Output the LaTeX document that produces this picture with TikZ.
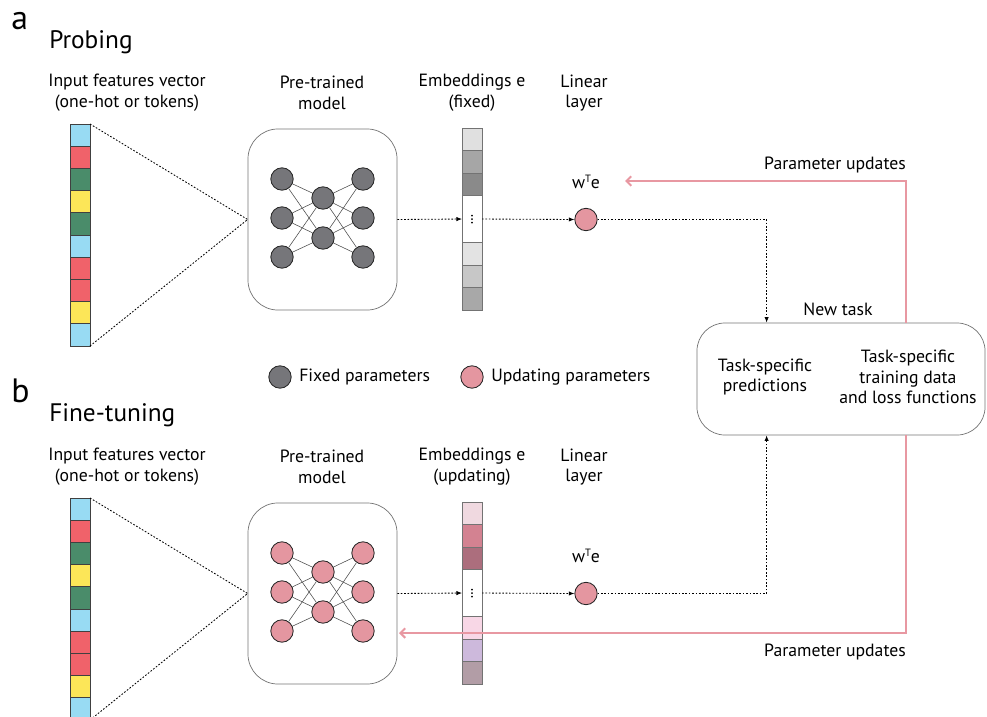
\documentclass[tikz,border=0pt]{standalone}
\usepackage{fontspec}
\setmainfont{PT Sans}
\usetikzlibrary{arrows.meta, positioning}
\definecolor{inblue}{RGB}{152,219,243}
\definecolor{inred}{RGB}{240,98,106}
\definecolor{ingreen}{RGB}{74,140,106}
\definecolor{inyellow}{RGB}{252,230,88}
\definecolor{fixedgray}{RGB}{118,118,122}
\definecolor{updpink}{RGB}{228,150,160}
\definecolor{updline}{RGB}{232,152,162}
\newcommand{\supT}{\raisebox{0.75ex}{\fontsize{7.5}{7.5}\selectfont T}}
\tikzset{
    txt/.style={font=\fontsize{12.6}{14.7}\selectfont, align=center, inner sep=0pt},
    letter/.style={font=\fontsize{24}{28}\selectfont, inner sep=0pt},
    paneltitle/.style={font=\fontsize{18}{22}\selectfont, inner sep=0pt},
    incell/.style={draw=black!75, line width=0.7pt, minimum width=0.5cm, minimum height=0.555cm, inner sep=0pt, outer sep=0pt},
    embcell/.style={draw=black!55, line width=0.7pt, minimum width=0.5cm, minimum height=0.5625cm, inner sep=0pt, outer sep=0pt},
    modelbox/.style={draw=black!55, line width=0.5pt, rounded corners=0.75cm, minimum width=3.725cm, minimum height=4.525cm},
    neuron/.style={circle, draw=black!85, line width=0.6pt, minimum size=0.56cm, inner sep=0pt},
    wire/.style={black!70, line width=0.4pt},
    dotline/.style={dash pattern=on 1.2pt off 1.2pt, line width=0.6pt},
    dotarrow/.style={dotline, -{Latex[length=1.4mm, width=1.1mm]}},
    updarrow/.style={updline, line width=1.4pt, -{Straight Barb[length=1.2mm, width=2.4mm]}}
}
\begin{document}
\begin{tikzpicture}[x=0.025cm, y=-0.025cm]
    \useasboundingbox (0,0) rectangle (987,717);

    % Panel a: probing
    \node[letter, anchor=base west] (a-letter) at (11,29) {a};
    \node[paneltitle, anchor=base west] (a-title) at (49,48) {Probing};
    \node[txt] (a-inlabel) at (127,93) {Input features vector\\(one-hot or tokens)};
    \node[txt] (a-modellabel) at (322,93) {Pre-trained\\model};
    \node[txt] (a-emblabel) at (472,93) {Embeddings e\\(fixed)};
    \node[txt] (a-linlabel) at (584,93) {Linear\\layer};

    % Input features vector
    \foreach \c [count=\i] in {inblue,inred,ingreen,inyellow,ingreen,inblue,inred,inred,inyellow,inblue}
        \node[incell, fill=\c] (a-in-\i) at (80,{124+22.2*(\i-0.5)}) {};

    % Pre-trained model (fixed)
    \node[modelbox] (a-model) at (322.5,219.5) {};
    \node[neuron, fill=fixedgray] (a-n11) at (282,179) {};
    \node[neuron, fill=fixedgray] (a-n12) at (282,218) {};
    \node[neuron, fill=fixedgray] (a-n13) at (282,257) {};
    \node[neuron, fill=fixedgray] (a-n21) at (323,198) {};
    \node[neuron, fill=fixedgray] (a-n22) at (323,238) {};
    \node[neuron, fill=fixedgray] (a-n31) at (363,179) {};
    \node[neuron, fill=fixedgray] (a-n32) at (363,218) {};
    \node[neuron, fill=fixedgray] (a-n33) at (363,257) {};
    \foreach \i in {1,2,3}
        \foreach \j in {1,2} {
            \draw[wire] (a-n1\i) -- (a-n2\j);
            \draw[wire] (a-n2\j) -- (a-n3\i);
        }

    % Embeddings (fixed)
    \node[embcell, fill=black!12] (a-emb-1) at (472,139.25) {};
    \node[embcell, fill=black!35, below=0pt of a-emb-1] (a-emb-2) {};
    \node[embcell, fill=black!46, below=0pt of a-emb-2] (a-emb-3) {};
    \node[embcell, fill=white, minimum height=1.175cm, below=0pt of a-emb-3] (a-emb-4) {};
    \node[embcell, fill=black!11, below=0pt of a-emb-4] (a-emb-5) {};
    \node[embcell, fill=black!22, below=0pt of a-emb-5] (a-emb-6) {};
    \node[embcell, fill=black!34, below=0pt of a-emb-6] (a-emb-7) {};
    \foreach \d in {-3.5,0,3.5}
        \fill ([yshift=\d*0.025cm]a-emb-4.center) circle[radius=0.7pt];

    % Linear layer
    \node[neuron, fill=updpink] (a-lin) at (586,219.5) {};
    \node[txt] (a-wte) at (586,182) {w\supT e};

    % Connections
    \draw[dotline] (a-in-1.north east) -- (a-model.west);
    \draw[dotline] (a-in-10.south east) -- (a-model.west);
    \draw[dotarrow] (a-model.east) -- (a-emb-4.west);
    \draw[dotarrow] (a-emb-4.east) -- (a-lin.west);

    % New task
    \node[draw=black!55, line width=0.5pt, rounded corners=0.7cm, minimum width=7.2cm, minimum height=2.8cm] (task) at (841,379) {};
    \node[txt] (tasklabel) at (838,309) {New task};
    \node[txt] (taskpred) at (765,377) {Task-specific\\predictions};
    \node[txt] (taskdata) at (908,377) {Task-specific\\training data\\and loss functions};
    \draw[dotarrow] (a-lin.east) -| ([xshift=1.75cm]task.north west);

    % Parameter updates (probing)
    \coordinate (a-upd) at (625,181);
    \draw[updarrow] ([xshift=1.625cm]task.north) |- (a-upd);
    \node[txt] (a-updlabel) at (835,165) {Parameter updates};

    % Legend
    \node[neuron, fill=fixedgray] (leg-fixed) at (280,377) {};
    \node[txt, anchor=west] (leg-fixedlabel) at (299,377) {Fixed parameters};
    \node[neuron, fill=updpink] (leg-upd) at (472,377) {};
    \node[txt, anchor=west] (leg-updlabel) at (491,377) {Updating parameters};

    % Panel b: fine-tuning
    \node[letter, anchor=base west] (b-letter) at (11,402) {b};
    \node[paneltitle, anchor=base west] (b-title) at (49,421) {Fine-tuning};
    \node[txt] (b-inlabel) at (127,467) {Input features vector\\(one-hot or tokens)};
    \node[txt] (b-modellabel) at (322,467) {Pre-trained\\model};
    \node[txt] (b-emblabel) at (472,467) {Embeddings e\\(updating)};
    \node[txt] (b-linlabel) at (584,467) {Linear\\layer};

    % Input features vector
    \foreach \c [count=\i] in {inblue,inred,ingreen,inyellow,ingreen,inblue,inred,inred,inyellow,inblue}
        \node[incell, fill=\c] (b-in-\i) at (80,{498+22.2*(\i-0.5)}) {};

    % Pre-trained model (updating)
    \node[modelbox] (b-model) at (322.5,593.5) {};
    \node[neuron, fill=updpink] (b-n11) at (282,553) {};
    \node[neuron, fill=updpink] (b-n12) at (282,592) {};
    \node[neuron, fill=updpink] (b-n13) at (282,631) {};
    \node[neuron, fill=updpink] (b-n21) at (323,572) {};
    \node[neuron, fill=updpink] (b-n22) at (323,612) {};
    \node[neuron, fill=updpink] (b-n31) at (363,553) {};
    \node[neuron, fill=updpink] (b-n32) at (363,592) {};
    \node[neuron, fill=updpink] (b-n33) at (363,631) {};
    \foreach \i in {1,2,3}
        \foreach \j in {1,2} {
            \draw[wire] (b-n1\i) -- (b-n2\j);
            \draw[wire] (b-n2\j) -- (b-n3\i);
        }

    % Embeddings (updating)
    \node[embcell, fill={rgb,255:red,240;green,217;blue,224}] (b-emb-1) at (472,513.25) {};
    \node[embcell, fill={rgb,255:red,211;green,130;blue,145}, below=0pt of b-emb-1] (b-emb-2) {};
    \node[embcell, fill={rgb,255:red,172;green,110;blue,125}, below=0pt of b-emb-2] (b-emb-3) {};
    \node[embcell, fill=white, minimum height=1.175cm, below=0pt of b-emb-3] (b-emb-4) {};
    \node[embcell, fill={rgb,255:red,248;green,215;blue,230}, below=0pt of b-emb-4] (b-emb-5) {};
    \node[embcell, fill={rgb,255:red,205;green,185;blue,220}, below=0pt of b-emb-5] (b-emb-6) {};
    \node[embcell, fill={rgb,255:red,178;green,157;blue,166}, below=0pt of b-emb-6] (b-emb-7) {};
    \foreach \d in {-3.5,0,3.5}
        \fill ([yshift=\d*0.025cm]b-emb-4.center) circle[radius=0.7pt];

    % Linear layer
    \node[neuron, fill=updpink] (b-lin) at (586,593.5) {};
    \node[txt] (b-wte) at (586,556) {w\supT e};

    % Connections
    \draw[dotline] (b-in-1.north east) -- (b-model.west);
    \draw[dotline] (b-in-10.south east) -- (b-model.west);
    \draw[dotarrow] (b-model.east) -- (b-emb-4.west);
    \draw[dotarrow] (b-emb-4.east) -- (b-lin.west);
    \draw[dotarrow] (b-lin.east) -| ([xshift=1.75cm]task.south west);

    % Parameter updates (fine-tuning)
    \coordinate (b-upd) at (399,633);
    \draw[updarrow] ([xshift=1.625cm]task.south) |- (b-upd);
    \node[txt] (b-updlabel) at (835,652) {Parameter updates};
\end{tikzpicture}
\end{document}
